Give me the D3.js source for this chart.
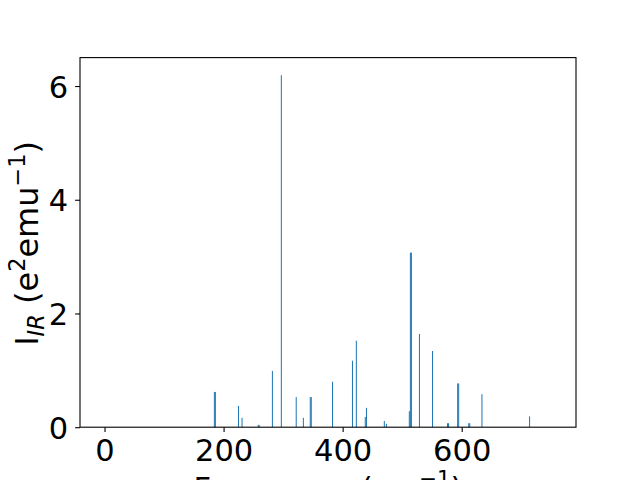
<!DOCTYPE html>
<html><head><meta charset="utf-8">
<script src="https://cdn.jsdelivr.net/npm/d3@7"></script>
<style>body{margin:0;background:#fff}svg{display:block}text{font-family:"DejaVu Sans",sans-serif}</style>
</head><body>
<svg id="c" width="640" height="480"></svg>
<script>
// Frequencies (cm^-1) and IR intensities
const frequencies = [184.5,186.2,225,231,258.2,259.8,282,297,322,334,345.6,347.3,383,416.5,423,438,440,470,473.5,512,513.8,515.5,529,551,576.2,577.9,593.2,594.9,611.8,613.5,634,714];
const intensities = [0.62,0.62,0.375,0.165,0.04,0.04,0.99,6.19,0.53,0.165,0.53,0.53,0.80,1.17,1.52,0.18,0.34,0.11,0.06,0.28,3.07,3.07,1.64,1.34,0.07,0.07,0.77,0.77,0.07,0.07,0.58,0.19];
const xTicks = [0,200,400,600];
const yTicks = [0,2,4,6];
const xDomain = [-41.2, 792];
const yDomain = [0, 6.5];

const svg = d3.select("#c");
const L=80,R=576,T=57.6,B=427.2;
const x = d3.scaleLinear().domain(xDomain).range([L,R]);
const y = d3.scaleLinear().domain(yDomain).range([B,T]);
const bw = 1.7;
const data = frequencies.map((f,i)=>({f, v:intensities[i]}));

svg.append("g").selectAll("rect").data(data).join("rect")
  .attr("x", d=>x(d.f-bw/2)).attr("width", d=>Math.max(1, x(d.f+bw/2)-x(d.f-bw/2)))
  .attr("y", d=>y(d.v)).attr("height", d=>B-y(d.v))
  .attr("fill","#1f77b4");

const fs = 30.5;
const xa = svg.append("g").attr("transform",`translate(0,${B})`)
  .call(d3.axisBottom(x).tickValues(xTicks).tickSize(4.9).tickPadding(7).tickFormat(d3.format("d")));
const ya = svg.append("g").attr("transform",`translate(${L},0)`)
  .call(d3.axisLeft(y).tickValues(yTicks).tickSize(4.9).tickPadding(7).tickFormat(d3.format("d")));
[xa,ya].forEach(a=>{
  a.select(".domain").remove();
  a.selectAll(".tick line").attr("stroke","#000").attr("stroke-width",1.1);
  a.selectAll(".tick text").attr("font-size",fs).attr("font-family","DejaVu Sans").attr("fill","#000");
});
xa.selectAll(".tick text").attr("dy",null).attr("y",null).attr("transform",`translate(0,${461-B})`);
ya.selectAll(".tick text").attr("dy","0.36em");

svg.append("rect").attr("x",L).attr("y",T).attr("width",R-L).attr("height",B-T)
  .attr("fill","none").attr("stroke","#000").attr("stroke-width",1.1);

// x label
const xl = svg.append("text").attr("x",(L+R)/2).attr("y",499).attr("text-anchor","middle").attr("font-size",fs);
xl.append("tspan").text("Frequency (cm");
xl.append("tspan").attr("dy",-13).attr("font-size",fs*0.7).text("\u22121");
xl.append("tspan").attr("dy",13).text(")");

// y label
const yfs = 32;
const yl = svg.append("text").attr("transform",`translate(38,${(T+B)/2+1}) rotate(-90)`).attr("text-anchor","middle").attr("font-size",yfs);
yl.append("tspan").text("I");
yl.append("tspan").attr("dy",6).attr("font-size",yfs*0.7).attr("font-style","italic").text("IR");
yl.append("tspan").attr("dy",-6).text(" (e");
yl.append("tspan").attr("dy",-13).attr("font-size",yfs*0.7).text("2");
yl.append("tspan").attr("dy",13).text("emu");
yl.append("tspan").attr("dy",-13).attr("font-size",yfs*0.7).text("\u22121");
yl.append("tspan").attr("dy",13).text(")");
</script>
</body></html>
